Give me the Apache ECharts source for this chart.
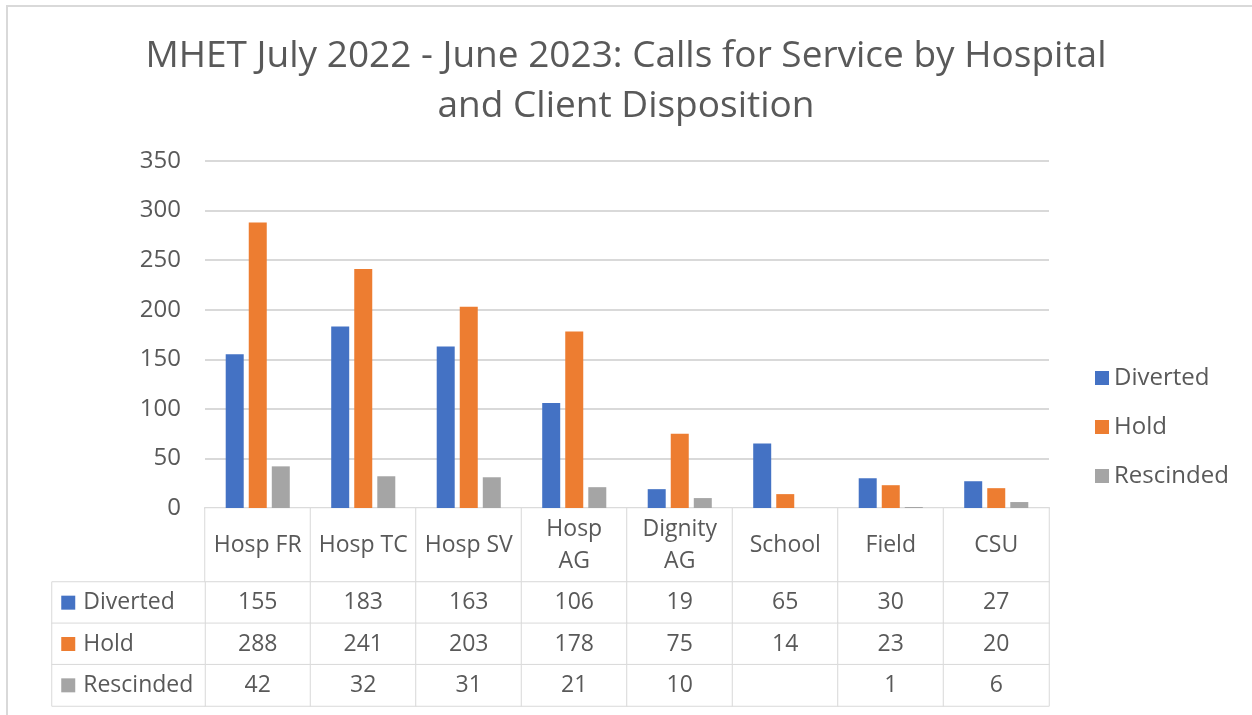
<!DOCTYPE html>
<html>
<head>
<meta charset="utf-8">
<script src="https://cdn.jsdelivr.net/npm/echarts@6/dist/echarts.min.js"></script>
<style>
  html, body { margin: 0; padding: 0; background: #fff; }
  #main { width: 1252px; height: 715px; }
</style>
</head>
<body>
<div id="main"></div>
<script>
const categories = ['Hosp FR', 'Hosp TC', 'Hosp SV', 'Hosp\nAG', 'Dignity\nAG', 'School', 'Field', 'CSU'];
const seriesNames = ['Diverted', 'Hold', 'Rescinded'];
const diverted = [155, 183, 163, 106, 19, 65, 30, 27];
const hold = [288, 241, 203, 178, 75, 14, 23, 20];
const rescinded = [42, 32, 31, 21, 10, null, 1, 6];
const colors = ['#4472C4', '#ED7D31', '#A5A5A5'];

const rows = [diverted, hold, rescinded];
const textColor = '#595959';
const lineColor = '#d9d9d9';
const font = '"Open Sans", "Noto Sans", sans-serif';

// cells for the data table (heatmap used only as a bordered grid)
const valueCells = [];
rows.forEach((r, ri) => r.forEach((v, ci) => valueCells.push([ci, ri, 1])));
const catCells = categories.map((c, ci) => [ci, 0, 1]);
const labelCells = seriesNames.map((n, ri) => [0, ri, 1]);

const cellStyle = { color: '#fff', borderColor: lineColor, borderWidth: 1 };

const rich = {};
colors.forEach((c, i) => {
  rich['s' + i] = { width: 14, height: 14, backgroundColor: c };
});
rich.t = { fontSize: 23, color: textColor, fontFamily: font, padding: [0, 0, 0, 8] };

const myChart = echarts.init(document.getElementById('main'));
myChart.setOption({
  backgroundColor: '#fff',
  animation: false,
  textStyle: { fontFamily: font },
  title: {
    text: 'MHET July 2022 - June 2023: Calls for Service by Hospital\nand Client Disposition',
    left: 'center',
    top: 26,
    textStyle: { fontSize: 37, fontWeight: 'normal', color: textColor, lineHeight: 50, fontFamily: font }
  },
  legend: {
    orient: 'vertical',
    left: 1090,
    top: 361,
    itemWidth: 14,
    itemHeight: 14,
    itemGap: 25,
    icon: 'rect',
    textStyle: { fontSize: 24, color: textColor, fontFamily: font },
    data: seriesNames
  },
  graphic: [{
    type: 'rect',
    shape: { x: 7, y: 6, width: 1260, height: 730 },
    style: { fill: 'none', stroke: lineColor, lineWidth: 2 },
    silent: true
  }],
  grid: [
    { left: 205, right: 203, top: 161, bottom: 207 },
    { left: 205, right: 203, top: 508, height: 74 },
    { left: 205, right: 203, top: 582, height: 124 },
    { left: 52, width: 153, top: 582, height: 124 }
  ],
  xAxis: [
    {
      type: 'category', gridIndex: 0, data: categories,
      axisLine: { lineStyle: { color: lineColor, width: 2 } },
      axisTick: { show: false }, axisLabel: { show: false }
    },
    { type: 'category', gridIndex: 1, data: categories, show: false },
    { type: 'category', gridIndex: 2, data: categories, show: false },
    { type: 'category', gridIndex: 3, data: [''], show: false }
  ],
  yAxis: [
    {
      type: 'value', gridIndex: 0, min: 0, max: 350, interval: 50,
      axisLine: { show: false }, axisTick: { show: false },
      axisLabel: { fontSize: 24, color: textColor, margin: 24, fontFamily: font },
      splitLine: { lineStyle: { color: lineColor, width: 2 } }
    },
    { type: 'category', gridIndex: 1, data: [''], show: false },
    { type: 'category', gridIndex: 2, data: seriesNames, inverse: true, show: false },
    { type: 'category', gridIndex: 3, data: seriesNames, inverse: true, show: false }
  ],
  series: [
    ...[diverted, hold, rescinded].map((d, i) => ({
      name: seriesNames[i],
      type: 'bar',
      xAxisIndex: 0, yAxisIndex: 0,
      data: d,
      barWidth: 18,
      barGap: '28%',
      itemStyle: { color: colors[i] }
    })),
    {
      type: 'heatmap', xAxisIndex: 1, yAxisIndex: 1,
      data: catCells,
      itemStyle: cellStyle,
      emphasis: { disabled: true },
      label: {
        show: true, fontSize: 23, color: textColor, fontFamily: font, lineHeight: 32,
        formatter: p => categories[p.value[0]]
      }
    },
    {
      type: 'heatmap', xAxisIndex: 2, yAxisIndex: 2,
      data: valueCells,
      itemStyle: cellStyle,
      emphasis: { disabled: true },
      label: {
        show: true, fontSize: 23, color: textColor, fontFamily: font,
        formatter: p => {
          const v = rows[p.value[1]][p.value[0]];
          return v == null ? '' : String(v);
        }
      }
    },
    {
      type: 'heatmap', xAxisIndex: 3, yAxisIndex: 3,
      data: labelCells,
      itemStyle: cellStyle,
      emphasis: { disabled: true },
      label: {
        show: true, position: 'insideLeft', distance: 10,
        formatter: p => '{s' + p.value[1] + '|}{t|' + seriesNames[p.value[1]] + '}',
        rich: rich
      }
    }
  ]
});
</script>
</body>
</html>
